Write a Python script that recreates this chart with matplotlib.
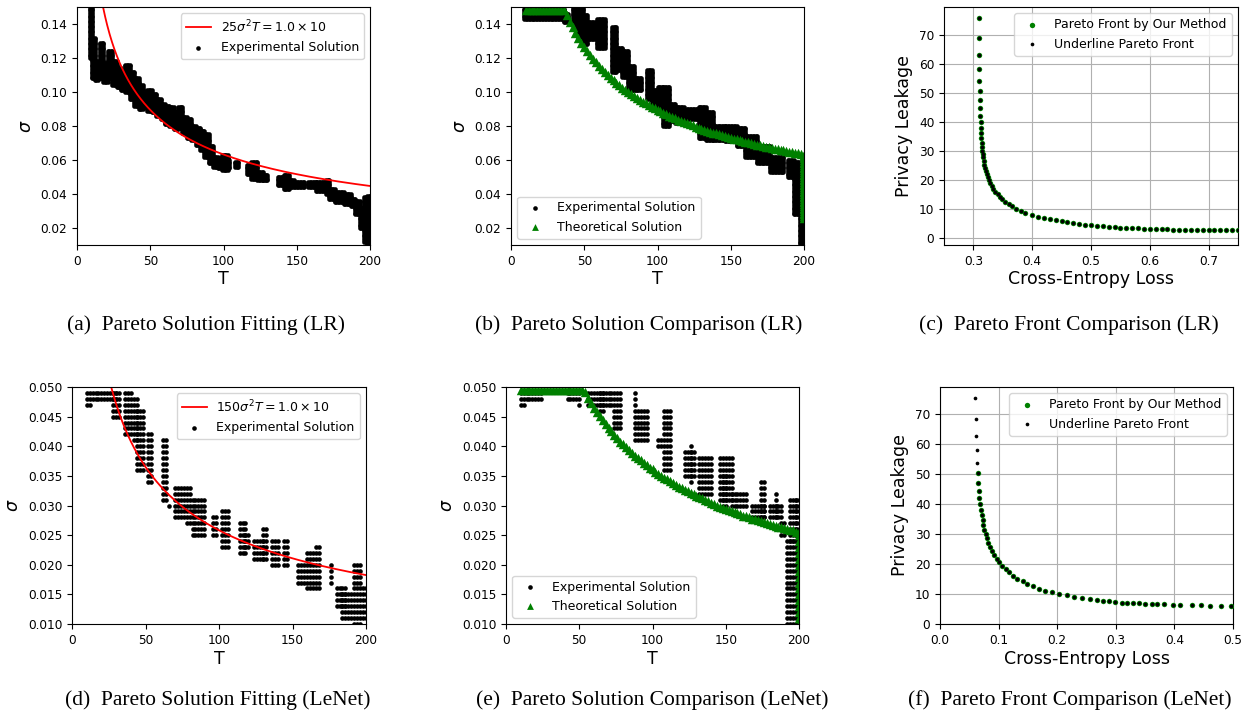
import numpy as np
import matplotlib.pyplot as plt

W, H = 1244, 711

# --- fitted curves: coef * sigma^2 * T = rhs ---------------------------------
LR_FIT_COEF, LENET_FIT_COEF, FIT_RHS = 25, 150, 10

# --- experimental solutions, (T_start, T_end, sigma_low, sigma_high) on the
#     sigma grid of 0.001 -------------------------------------------------------
LR_FIT_EXP = [
    (9, 10, 0.120, 0.150), (10, 12, 0.108, 0.132), (12, 14, 0.107, 0.118),
    (14, 16, 0.108, 0.116), (16, 18, 0.108, 0.129), (18, 21, 0.106, 0.117),
    (21, 24, 0.108, 0.124), (24, 27, 0.104, 0.118), (27, 30, 0.103, 0.114),
    (30, 33, 0.101, 0.112), (33, 36, 0.100, 0.116), (36, 39, 0.096, 0.112),
    (39, 42, 0.092, 0.108), (42, 45, 0.090, 0.104), (45, 48, 0.091, 0.100),
    (48, 51, 0.089, 0.101), (51, 54, 0.088, 0.099), (54, 57, 0.086, 0.096),
    (57, 60, 0.084, 0.093), (60, 63, 0.081, 0.092), (63, 66, 0.080, 0.091),
    (66, 69, 0.078, 0.088), (69, 72, 0.079, 0.091), (72, 75, 0.076, 0.085),
    (75, 78, 0.073, 0.084), (78, 81, 0.072, 0.080), (81, 84, 0.069, 0.079),
    (84, 87, 0.066, 0.077), (87, 90, 0.062, 0.075), (90, 93, 0.058, 0.068),
    (93, 96, 0.056, 0.062), (96, 99, 0.055, 0.061), (99, 103, 0.054, 0.063),
    (103, 104, 0.055, 0.060), (108, 110, 0.056, 0.059), (116, 119, 0.052, 0.057),
    (119, 123, 0.049, 0.059), (123, 127, 0.048, 0.053), (127, 130, 0.048, 0.051),
    (137, 141, 0.045, 0.050), (141, 145, 0.043, 0.051), (145, 148, 0.044, 0.048),
    (149, 155, 0.044, 0.047), (158, 163, 0.044, 0.047), (163, 170, 0.042, 0.047),
    (170, 172, 0.040, 0.048), (172, 176, 0.037, 0.043), (176, 182, 0.035, 0.041),
    (182, 187, 0.034, 0.040), (187, 190, 0.033, 0.037), (190, 193, 0.028, 0.036),
    (193, 196, 0.020, 0.032), (196, 198, 0.012, 0.038), (198, 200, 0.010, 0.039),
]

LR_CMP_EXP = [
    (9, 36, 0.143, 0.149), (36, 39, 0.141, 0.146), (42, 45, 0.140, 0.150),
    (45, 49, 0.133, 0.150), (49, 52, 0.128, 0.145), (53, 57, 0.131, 0.141),
    (59, 64, 0.126, 0.143), (69, 72, 0.112, 0.138), (72, 76, 0.113, 0.126),
    (76, 80, 0.109, 0.124), (80, 84, 0.101, 0.115), (84, 89, 0.101, 0.108),
    (93, 96, 0.096, 0.113), (96, 100, 0.091, 0.101), (100, 104, 0.090, 0.103),
    (104, 108, 0.080, 0.103), (108, 112, 0.083, 0.093), (112, 118, 0.082, 0.091),
    (120, 127, 0.084, 0.090), (128, 133, 0.073, 0.091), (133, 138, 0.072, 0.088),
    (138, 146, 0.072, 0.080), (146, 154, 0.071, 0.080), (154, 160, 0.068, 0.079),
    (160, 168, 0.062, 0.074), (168, 177, 0.058, 0.068), (177, 186, 0.053, 0.062),
    (189, 193, 0.050, 0.060), (193, 197, 0.028, 0.059), (197, 200, 0.010, 0.035),
]

LENET_FIT_EXP = [
    (10, 30, 0.048, 0.049), (10, 12, 0.047, 0.047), (28, 32, 0.045, 0.049),
    (36, 40, 0.042, 0.049), (42, 44, 0.041, 0.048), (44, 48, 0.036, 0.046),
    (52, 54, 0.034, 0.042), (62, 64, 0.031, 0.041), (66, 66, 0.030, 0.030),
    (70, 76, 0.028, 0.033), (78, 80, 0.027, 0.033), (82, 90, 0.025, 0.031),
    (96, 98, 0.025, 0.028), (102, 106, 0.023, 0.029), (114, 118, 0.022, 0.027),
    (118, 120, 0.023, 0.025), (124, 130, 0.021, 0.024), (130, 132, 0.021, 0.026),
    (136, 140, 0.020, 0.024), (144, 146, 0.020, 0.024), (154, 158, 0.017, 0.020),
    (160, 164, 0.016, 0.022), (166, 168, 0.016, 0.023), (176, 176, 0.017, 0.020),
    (180, 186, 0.013, 0.016), (184, 190, 0.011, 0.015), (192, 196, 0.010, 0.020),
    (198, 200, 0.011, 0.016),
]

LENET_CMP_EXP = [
    (10, 24, 0.048, 0.049), (10, 12, 0.047, 0.047), (42, 48, 0.048, 0.049),
    (50, 50, 0.047, 0.049), (56, 58, 0.047, 0.049), (60, 72, 0.047, 0.049),
    (64, 66, 0.046, 0.049), (74, 78, 0.043, 0.049), (88, 88, 0.041, 0.049),
    (90, 96, 0.041, 0.046), (104, 106, 0.040, 0.041), (108, 112, 0.036, 0.046),
    (122, 128, 0.035, 0.039), (126, 126, 0.034, 0.040), (132, 140, 0.032, 0.038),
    (146, 154, 0.031, 0.038), (148, 150, 0.029, 0.035), (154, 164, 0.030, 0.032),
    (168, 176, 0.028, 0.030), (174, 176, 0.028, 0.034), (180, 188, 0.028, 0.030),
    (184, 184, 0.028, 0.032), (188, 190, 0.025, 0.027), (192, 196, 0.010, 0.024),
    (194, 198, 0.024, 0.031), (198, 200, 0.010, 0.031),
]

# --- theoretical solutions ----------------------------------------------------
THEO_T = np.arange(10, 201, 2)
THEO_LR_SIGMA = [0.148] * 14 + [
    0.1451, 0.1414, 0.1380, 0.1348, 0.1319, 0.1291, 0.1265, 0.1240, 0.1217,
    0.1195, 0.1174, 0.1155, 0.1136, 0.1118, 0.1101, 0.1085, 0.1069, 0.1054,
    0.1040, 0.1026, 0.1013, 0.1000, 0.0988, 0.0976, 0.0964, 0.0953, 0.0943,
    0.0933, 0.0923, 0.0913, 0.0904, 0.0894, 0.0886, 0.0877, 0.0869, 0.0861,
    0.0853, 0.0845, 0.0838, 0.0830, 0.0823, 0.0816, 0.0810, 0.0803, 0.0797,
    0.0791, 0.0784, 0.0778, 0.0773, 0.0767, 0.0761, 0.0756, 0.0751, 0.0745,
    0.0740, 0.0735, 0.0730, 0.0725, 0.0721, 0.0716, 0.0712, 0.0707, 0.0703,
    0.0698, 0.0694, 0.0690, 0.0686, 0.0682, 0.0678, 0.0674, 0.0670, 0.0667,
    0.0663, 0.0659, 0.0656, 0.0652, 0.0649, 0.0645, 0.0642, 0.0639, 0.0636,
    0.0632,
]
THEO_LENET_SIGMA = [0.0495] * 22 + [
    0.0491, 0.0482, 0.0473, 0.0465, 0.0458, 0.0451, 0.0444, 0.0437, 0.0431,
    0.0425, 0.0419, 0.0414, 0.0408, 0.0403, 0.0398, 0.0393, 0.0389, 0.0384,
    0.0380, 0.0376, 0.0372, 0.0368, 0.0364, 0.0361, 0.0357, 0.0354, 0.0350,
    0.0347, 0.0344, 0.0341, 0.0338, 0.0335, 0.0332, 0.0329, 0.0326, 0.0324,
    0.0321, 0.0319, 0.0316, 0.0314, 0.0312, 0.0309, 0.0307, 0.0305, 0.0303,
    0.0300, 0.0298, 0.0296, 0.0294, 0.0292, 0.0291, 0.0289, 0.0287, 0.0285,
    0.0283, 0.0282, 0.0280, 0.0278, 0.0277, 0.0275, 0.0273, 0.0272, 0.0270,
    0.0269, 0.0267, 0.0266, 0.0264, 0.0263, 0.0262, 0.0260, 0.0259, 0.0258,
    0.0256, 0.0255,
]
# sigma range of the theoretical points stacked at T = 200
THEO_LR_EDGE = (0.026, 0.063)
THEO_LENET_EDGE = (0.010, 0.025)

# --- Pareto fronts (cross-entropy loss, privacy leakage) ----------------------
PF_LR_LOSS = [
    0.309, 0.3096, 0.3096, 0.310, 0.310, 0.3108, 0.3113, 0.3113, 0.3119, 0.3125,
    0.313, 0.313, 0.3136, 0.314, 0.3148, 0.3153, 0.3159, 0.3165, 0.3176, 0.3187,
    0.320, 0.321, 0.3227, 0.3244, 0.326, 0.3284, 0.331, 0.334, 0.3374, 0.341,
    0.3448, 0.3494, 0.3545, 0.360, 0.3664, 0.373, 0.3806, 0.3885,
    0.40, 0.41, 0.42, 0.43, 0.44, 0.45, 0.46, 0.47, 0.48, 0.49, 0.50, 0.51,
    0.52, 0.53, 0.54, 0.55, 0.56, 0.57, 0.58, 0.59, 0.60, 0.61, 0.62, 0.63,
    0.64, 0.65, 0.66, 0.67, 0.68, 0.69, 0.70, 0.71, 0.72, 0.73, 0.74, 0.75,
]
PF_LR_LEAK = [
    75.8, 68.7, 63.1, 58.1, 54.1, 50.7, 47.3, 44.6, 42.1, 39.8,
    37.9, 36.0, 34.4, 32.8, 31.4, 30.0, 28.9, 27.7, 26.5, 25.2,
    24.1, 23.0, 22.0, 21.0, 19.9, 18.9, 17.8, 16.8, 15.9, 15.0,
    14.0, 13.2, 12.4, 11.6, 10.8, 10.0, 9.3, 8.6,
    7.9, 7.3, 6.8, 6.3, 5.95, 5.6, 5.3, 5.0, 4.75, 4.5, 4.3, 4.1,
    3.9, 3.75, 3.6, 3.5, 3.4, 3.3, 3.2, 3.1, 3.0, 2.95, 2.9, 2.85,
    2.8, 2.78, 2.75, 2.7, 2.68, 2.65, 2.62, 2.6, 2.57, 2.55, 2.53, 2.5,
]
PF_LENET_LOSS = [
    0.0602, 0.0608, 0.0614, 0.0625, 0.0636, 0.0642, 0.0653, 0.0659, 0.0665,
    0.068, 0.0693, 0.071, 0.0727, 0.0739, 0.0756, 0.078, 0.0795, 0.0824,
    0.0852, 0.088, 0.092, 0.0966, 0.101, 0.106, 0.112, 0.1176, 0.125, 0.132,
    0.141, 0.149, 0.159, 0.169, 0.180, 0.191, 0.203, 0.216, 0.228, 0.2415,
    0.256, 0.268, 0.278, 0.289, 0.298, 0.310, 0.319, 0.330, 0.340, 0.349,
    0.361, 0.371, 0.382, 0.398, 0.410, 0.430, 0.446, 0.460, 0.480, 0.497,
]
PF_LENET_LEAK = [
    75.2, 68.3, 62.8, 57.9, 53.6, 50.4, 47.1, 44.4, 42.1,
    39.9, 38.0, 36.2, 34.7, 33.0, 31.3, 29.9, 28.6, 26.9,
    25.6, 24.3, 23.0, 21.7, 20.6, 19.4, 18.3, 17.2, 16.1, 15.1,
    14.2, 13.3, 12.6, 11.8, 11.1, 10.6, 10.0, 9.6, 9.1, 8.7,
    8.3, 8.0, 7.8, 7.6, 7.3, 7.1, 7.0, 6.9, 6.9, 6.8,
    6.7, 6.6, 6.6, 6.4, 6.3, 6.3, 6.2, 6.1, 6.1, 6.0,
]
# our method does not reach the five highest-leakage LeNet points
PF_LENET_OURS_FROM = 5

CAPTIONS = [
    "(a)  Pareto Solution Fitting (LR)",
    "(b)  Pareto Solution Comparison (LR)",
    "(c)  Pareto Front Comparison (LR)",
    "(d)  Pareto Solution Fitting (LeNet)",
    "(e)  Pareto Solution Comparison (LeNet)",
    "(f)  Pareto Front Comparison (LeNet)",
]


def expand(blocks, t_step, s_step=0.001):
    """Turn (T0, T1, lo, hi) blocks into individual grid points."""
    ts, ss = [], []
    for t0, t1, lo, hi in blocks:
        n_s = int(round((hi - lo) / s_step)) + 1
        for t in np.arange(t0, t1 + 1e-9, t_step):
            for k in range(n_s):
                ts.append(t)
                ss.append(lo + k * s_step)
    return np.array(ts), np.array(ss)


def px_axes(fig, left, top, right, bottom):
    return fig.add_axes([left / W, 1 - bottom / H, (right - left) / W,
                         (bottom - top) / H])


TICK_FS, LABEL_FS, LEG_FS = 8.7, 12.5, 9
EXP_S, TRI_S = 11, 46

fig = plt.figure(figsize=(W / 100, H / 100), dpi=100)

ax_a = px_axes(fig, 77, 7, 370, 245)
ax_b = px_axes(fig, 511, 7, 804, 245)
ax_c = px_axes(fig, 944, 7, 1238, 245)
ax_d = px_axes(fig, 72, 387, 366, 624)
ax_e = px_axes(fig, 506, 387, 799, 624)
ax_f = px_axes(fig, 940, 387, 1233, 624)


def sigma_axes(ax, ylim, yticks):
    ax.set_xlim(0, 200)
    ax.set_ylim(*ylim)
    ax.set_xticks([0, 50, 100, 150, 200])
    ax.set_yticks(yticks)
    ax.tick_params(labelsize=TICK_FS)
    ax.set_xlabel("T", fontsize=LABEL_FS, labelpad=2)
    ax.set_ylabel(r"$\sigma$", fontsize=LABEL_FS)


# (a) / (d): experimental solutions with the fitted curve
for ax, blocks, coef, t_step, ylim, yticks in [
    (ax_a, LR_FIT_EXP, LR_FIT_COEF, 1, (0.01, 0.15), np.arange(0.02, 0.141, 0.02)),
    (ax_d, LENET_FIT_EXP, LENET_FIT_COEF, 2, (0.01, 0.05), np.arange(0.01, 0.0501, 0.005)),
]:
    t_curve = np.linspace(1, 200, 600)
    ax.plot(t_curve, np.sqrt(FIT_RHS / (coef * t_curve)), color="red", lw=1.3,
            label=rf"${coef}\sigma^2T = 1.0\times10$")
    ts, ss = expand(blocks, t_step)
    ax.scatter(ts, ss, s=EXP_S, color="black", linewidths=0,
               label="Experimental Solution")
    sigma_axes(ax, ylim, yticks)
    ax.legend(loc="upper right", fontsize=LEG_FS)

# (b) / (e): experimental versus theoretical solutions
for ax, blocks, theo, edge, t_step, ylim, yticks in [
    (ax_b, LR_CMP_EXP, THEO_LR_SIGMA, THEO_LR_EDGE, 1, (0.01, 0.15),
     np.arange(0.02, 0.141, 0.02)),
    (ax_e, LENET_CMP_EXP, THEO_LENET_SIGMA, THEO_LENET_EDGE, 2, (0.01, 0.05),
     np.arange(0.01, 0.0501, 0.005)),
]:
    ts, ss = expand(blocks, t_step)
    ax.scatter(ts, ss, s=EXP_S, color="black", linewidths=0,
               label="Experimental Solution")
    et, es = expand([(200, 200, edge[0], edge[1])], 1)
    ax.scatter(np.concatenate([THEO_T, et]), np.concatenate([theo, es]),
               s=TRI_S, marker="^", color="green", linewidths=0,
               label="Theoretical Solution")
    sigma_axes(ax, ylim, yticks)
    leg = ax.legend(loc="lower left", fontsize=LEG_FS)
    # smaller triangle in the key than on the band
    leg.legend_handles[1].set_sizes([24])

# (c) / (f): Pareto fronts
for ax, loss, leak, start, xlim, ylim, xticks in [
    (ax_c, PF_LR_LOSS, PF_LR_LEAK, 0, (0.25, 0.75), (-2.5, 79.5),
     [0.3, 0.4, 0.5, 0.6, 0.7]),
    (ax_f, PF_LENET_LOSS, PF_LENET_LEAK, PF_LENET_OURS_FROM, (0.0, 0.5), (0, 79),
     [0.0, 0.1, 0.2, 0.3, 0.4, 0.5]),
]:
    ax.scatter(loss[start:], leak[start:], s=15, color="green", linewidths=0,
               label="Pareto Front by Our Method", zorder=3)
    ax.scatter(loss, leak, s=7, color="black", linewidths=0,
               label="Underline Pareto Front", zorder=4)
    ax.set_xlim(*xlim)
    ax.set_ylim(*ylim)
    ax.set_xticks(xticks)
    ax.set_yticks(range(0, 71, 10))
    ax.grid(True)
    ax.set_axisbelow(True)
    ax.tick_params(labelsize=TICK_FS)
    ax.set_xlabel("Cross-Entropy Loss", fontsize=LABEL_FS, labelpad=2)
    ax.set_ylabel("Privacy Leakage", fontsize=LABEL_FS)
    ax.legend(loc="upper right", fontsize=LEG_FS)

# subfigure captions
caption_pos = [(206, 330), (639, 330), (1069, 330),
               (218, 705), (652, 705), (1070, 705)]
for text, (cx, cy) in zip(CAPTIONS, caption_pos):
    fig.text(cx / W, 1 - cy / H, text, ha="center", va="baseline",
             family="Liberation Serif", fontsize=15.5)

fig.savefig("out.png", dpi=100)
